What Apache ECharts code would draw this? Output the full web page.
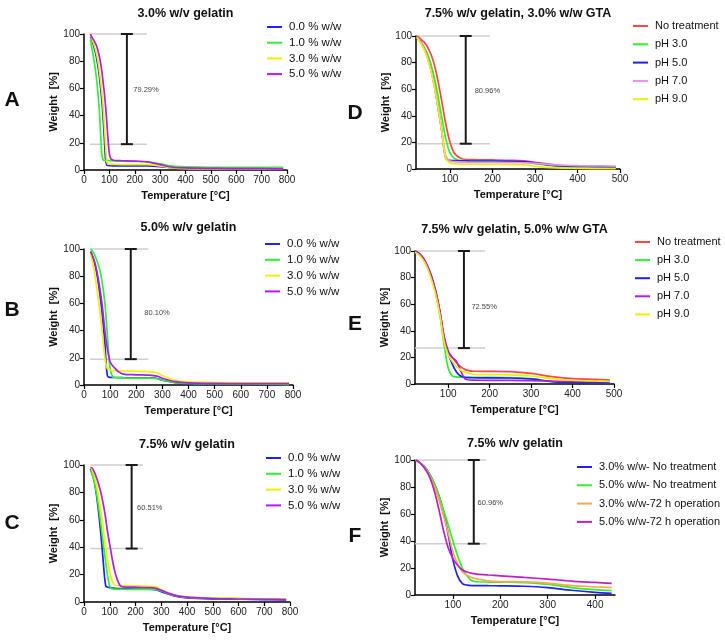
<!DOCTYPE html>
<html>
<head>
<meta charset="utf-8">
<script src="https://cdn.jsdelivr.net/npm/echarts@6/dist/echarts.min.js"></script>
<style>
  html, body { margin: 0; padding: 0; background: #fff; }
  #main { width: 725px; height: 640px; }
</style>
</head>
<body>
<div id="main"></div>
<script>
// ---- data ----
const tempA = [25, 30, 40, 50, 60, 70, 75, 80, 85, 90, 95, 100, 105, 110, 120, 150, 200, 250, 300, 350, 400, 500, 600, 700, 785];
const a00 = [98, 96, 90, 82, 70, 52, 40, 24, 8, 3.5, 3.3, 3.2, 3.2, 3.1, 3.1, 3, 3, 3, 2.5, 1.5, 1, 0.8, 0.8, 0.7, 0.7];
const a10 = [96, 91, 80, 66, 45, 12, 7.5, 7, 7, 7, 7, 7, 6.9, 6.8, 6.7, 6.5, 6.3, 6, 4.5, 2.8, 2.3, 2, 2, 2, 2];
const a30 = [99, 97, 92, 85, 74, 58, 48, 34, 18, 6, 4.5, 4.3, 4.2, 4.2, 4.1, 4, 4, 4, 3, 1.5, 1, 0.8, 0.8, 0.8, 0.8];
const a50 = [100, 98, 95, 91, 84, 73, 65, 57, 47, 35, 22, 12, 8.5, 7.5, 7, 6.8, 6.5, 6, 4, 2, 1.5, 1.2, 1, 1, 0.8];

const tempB = [25, 30, 40, 50, 60, 70, 80, 85, 90, 95, 100, 110, 120, 130, 150, 200, 250, 280, 300, 350, 400, 500, 600, 700, 785];
const b00 = [98, 96, 90, 81, 68, 52, 30, 15, 6.5, 5.8, 5.6, 5.5, 5.5, 5.5, 5.4, 5.3, 5.2, 4.8, 3.5, 1.8, 1, 0.7, 0.6, 0.5, 0.5];
const b10 = [100, 99, 96, 91, 85, 75, 60, 48, 35, 22, 12, 6, 5.5, 5.3, 5.2, 5, 5, 4.6, 3.5, 1.8, 1.2, 1, 0.8, 0.7, 0.3];
const b30 = [97, 93, 83, 70, 55, 38, 20, 14, 12, 11.5, 11, 10.8, 10.6, 10.5, 10.3, 10, 9.8, 9, 7, 3.5, 2.3, 1.8, 1.6, 1.5, 1.5];
const b50 = [98, 96, 91, 83, 72, 58, 40, 32, 26, 21, 17, 14, 12, 10, 8, 7.5, 7.2, 6.5, 5, 2.5, 1.5, 1.2, 1, 1, 1];

const tempC = [25, 30, 40, 50, 60, 70, 80, 85, 90, 100, 110, 120, 130, 140, 150, 200, 250, 280, 300, 350, 400, 500, 600, 700, 785];
const c00 = [97, 95, 88, 76, 60, 40, 18, 11.5, 11, 10.5, 10.2, 10, 9.8, 9.7, 9.6, 9.5, 9.3, 8.8, 7.5, 4.5, 3, 2.2, 2, 1.8, 1.6];
const c10 = [96, 94, 88, 78, 65, 50, 35, 28, 21, 11.5, 9.5, 9.4, 9.3, 9.3, 9.3, 9.2, 9.2, 9, 8, 5, 3.5, 2.8, 2.5, 2.2, 2];
const c30 = [99, 97, 92, 84, 73, 60, 46, 39, 32, 22, 15, 12.5, 12, 12, 12, 11.8, 11.5, 11, 9, 5, 3.5, 2.8, 2.5, 2.2, 2];
const c50 = [98, 98, 95, 90, 84, 76, 66, 60, 53, 42, 31, 22, 16, 12, 11, 10.8, 10.5, 10, 8.5, 5, 3.5, 2.5, 2.2, 2, 1.8];

const tempD = [22, 30, 40, 50, 60, 70, 80, 90, 100, 110, 120, 130, 150, 200, 250, 280, 300, 350, 400, 450, 490];
const dNone = [100, 98, 95, 90, 82, 69, 52, 34, 20, 12, 9, 7.5, 7, 6.8, 6.5, 6, 5, 3, 2.3, 2, 1.5];
const dPh3 = [99, 96, 91, 84, 73, 58, 40, 23, 12, 8, 6.8, 6.3, 6, 5.8, 5.5, 5, 4, 2, 1.2, 1, 0.8];
const dPh5 = [99, 96, 90, 81, 68, 50, 30, 8, 6.5, 6.3, 6.2, 6.2, 6, 6, 5.8, 5.3, 4.5, 2.5, 2, 1.8, 1.5];
const dPh7 = [99, 96, 90, 81, 68, 50, 30, 10, 6, 5.5, 5.3, 5.2, 5, 5, 4.8, 4.6, 4.3, 3, 2.5, 2.3, 2.2];
const dPh9 = [99, 95, 89, 80, 67, 50, 30, 8, 4.5, 4, 3.8, 3.7, 3.6, 3.5, 3.3, 3, 2, 0.8, 0.5, 0.3, 0.3];

const tempE = [20, 30, 40, 50, 60, 70, 80, 90, 100, 110, 120, 130, 140, 150, 160, 200, 250, 300, 350, 400, 450, 490];
const eNone = [100, 98, 94, 88, 80, 69, 54, 36, 24, 20, 16, 13, 11, 10, 9.6, 9.5, 9.3, 8, 5.5, 4, 3.5, 3];
const ePh3 = [100, 98, 94, 88, 80, 68, 52, 30, 12, 6, 5.3, 5.1, 5, 5, 5, 5, 4.8, 4, 2, 1.5, 1.2, 1];
const ePh5 = [100, 98, 94, 88, 80, 69, 54, 34, 23, 15, 9, 6, 5, 4.8, 4.7, 4.6, 4.5, 3.8, 1.8, 1.2, 1, 0.8];
const ePh7 = [100, 98, 95, 89, 81, 70, 55, 36, 25, 20, 17, 10, 4, 3, 2.9, 2.8, 2.8, 2.6, 2.2, 2, 2, 2];
const ePh9 = [99, 97, 93, 87, 78, 67, 52, 32, 22, 17, 13, 10.5, 9, 8, 7.3, 7, 6.8, 6, 4, 2.8, 2.3, 2];

const tempF = [22, 30, 40, 50, 60, 70, 80, 90, 100, 110, 120, 130, 140, 150, 175, 200, 250, 300, 350, 400, 435];
const f3None = [100, 98, 95, 90, 83, 74, 62, 45, 26, 14, 8.5, 7.3, 7, 7, 6.9, 6.8, 6.5, 5.5, 3.5, 2, 1.3];
const f5None = [100, 98, 95, 90, 83, 74, 63, 52, 40, 29, 20, 14, 10.5, 9.8, 9.6, 9.5, 9.2, 8, 5.5, 4, 3.3];
const f3Op = [100, 98, 94, 89, 81, 71, 59, 46, 32, 23, 17, 14.5, 13, 12, 10.5, 10, 9.7, 8.8, 7, 6, 5.5];
const f5Op = [100, 98, 94, 88, 78, 64, 48, 35, 27, 22, 18.5, 17, 16, 15.5, 14.8, 14.2, 13, 11.8, 10.3, 9.3, 8.6];

// error bar (weight loss) per panel A..F
const errTemp = [169, 179, 185, 137, 138, 144];
const errLow = [19, 19, 39, 19, 27, 38];
const errHigh = [100, 100, 100, 100, 100, 100];
const refFrom = [24, 23, 25, 22, 20, 20];
const refTo = [248, 246, 229, 194, 189, 171];
const pctTemp = [194, 231, 206, 158, 156, 152];
const pctValue = [59, 53, 69, 59, 58, 68];
const pctText = ['79.29%', '80.10%', '60.51%', '80.96%', '72.55%', '60.96%'];

const panelTitles = ['3.0% w/v gelatin', '5.0% w/v gelatin', '7.5% w/v gelatin',
  '7.5% w/v gelatin, 3.0% w/w GTA', '7.5% w/v gelatin, 5.0% w/w GTA', '7.5% w/v gelatin'];
const panelLetters = ['A', 'B', 'C', 'D', 'E', 'F'];
const xTicksWide = [0, 100, 200, 300, 400, 500, 600, 700, 800];
const xTicksDE = [100, 200, 300, 400, 500];
const xTicksF = [100, 200, 300, 400];
const yTicks = [0, 20, 40, 60, 80, 100];

// ---- layout ----
const FONT = '"Liberation Sans", Arial, sans-serif';
const BLUE = '#1f1fff', GREEN = '#2ef22e', YELLOW = '#f0f000', PURPLE = '#b01ee6',
  RED = '#ff4545', PINK = '#e890f2', ORANGE = '#ffa64d', MAGENTA = '#c21ec8';

const panels = [
  { grid: { left: 84, top: 34, width: 203, height: 136 }, xMin: 0, xMax: 800, ticks: xTicksWide,
    letter: [12, 100], legend: { left: 267, top: 20, gap: 1.7 }, titleY: 7,
    curves: [['0.0 % w/w', tempA, a00, BLUE], ['1.0 % w/w', tempA, a10, GREEN], ['3.0 % w/w', tempA, a30, YELLOW], ['5.0 % w/w', tempA, a50, PURPLE]] },
  { grid: { left: 84, top: 249, width: 209, height: 136 }, xMin: 0, xMax: 800, ticks: xTicksWide,
    letter: [12, 310], legend: { left: 265, top: 237, gap: 1.8 }, titleY: 221,
    curves: [['0.0 % w/w', tempB, b00, BLUE], ['1.0 % w/w', tempB, b10, GREEN], ['3.0 % w/w', tempB, b30, YELLOW], ['5.0 % w/w', tempB, b50, PURPLE]] },
  { grid: { left: 84, top: 465, width: 206, height: 137 }, xMin: 0, xMax: 800, ticks: xTicksWide,
    letter: [12, 523], legend: { left: 266, top: 451, gap: 1.8 }, titleY: 438,
    curves: [['0.0 % w/w', tempC, c00, BLUE], ['1.0 % w/w', tempC, c10, GREEN], ['3.0 % w/w', tempC, c30, YELLOW], ['5.0 % w/w', tempC, c50, PURPLE]] },
  { grid: { left: 416, top: 36, width: 204, height: 133 }, xMin: 20, xMax: 500, ticks: xTicksDE,
    letter: [355, 113], legend: { left: 633, top: 19, gap: 4.3 }, titleY: 7,
    curves: [['No treatment', tempD, dNone, RED], ['pH 3.0', tempD, dPh3, GREEN], ['pH 5.0', tempD, dPh5, BLUE], ['pH 7.0', tempD, dPh7, PINK], ['pH 9.0', tempD, dPh9, YELLOW]] },
  { grid: { left: 415, top: 251, width: 199, height: 133 }, xMin: 20, xMax: 500, ticks: xTicksDE,
    letter: [355, 324], legend: { left: 635, top: 235, gap: 4.1 }, titleY: 223,
    curves: [['No treatment', tempE, eNone, RED], ['pH 3.0', tempE, ePh3, GREEN], ['pH 5.0', tempE, ePh5, BLUE], ['pH 7.0', tempE, ePh7, PURPLE], ['pH 9.0', tempE, ePh9, YELLOW]] },
  { grid: { left: 415, top: 460, width: 200, height: 135 }, xMin: 20, xMax: 442, ticks: xTicksF,
    letter: [355, 536], legend: { left: 577, top: 460, gap: 4.3 }, titleY: 437,
    curves: [['3.0% w/w- No treatment', tempF, f3None, BLUE], ['5.0% w/w- No treatment', tempF, f5None, GREEN], ['3.0% w/w-72 h operation', tempF, f3Op, ORANGE], ['5.0% w/w-72 h operation', tempF, f5Op, MAGENTA]] },
];

const grids = [], xAxes = [], yAxes = [], series = [], legends = [], titles = [], graphics = [];

panels.forEach((p, i) => {
  grids.push(p.grid);
  const axisLine = { show: true, lineStyle: { color: '#000', width: 1.5 } };
  const axisTick = { show: true, length: 4, lineStyle: { color: '#000', width: 1.2 } };
  xAxes.push({
    gridIndex: i, type: 'value', min: p.xMin, max: p.xMax,
    axisLine, axisTick: Object.assign({ customValues: p.ticks }, axisTick),
    axisLabel: { customValues: p.ticks, fontSize: 10, color: '#222', fontFamily: FONT, margin: 5 },
    splitLine: { show: false },
    name: 'Temperature [°C]', nameLocation: 'middle', nameGap: 20,
    nameTextStyle: { fontSize: 11, fontWeight: 'bold', color: '#111', fontFamily: FONT },
  });
  yAxes.push({
    gridIndex: i, type: 'value', min: 0, max: 100, interval: 20,
    axisLine, axisTick,
    axisLabel: { fontSize: 10, color: '#222', fontFamily: FONT, margin: 4 },
    splitLine: { show: false },
    name: 'Weight  [%]', nameLocation: 'middle', nameGap: 24,
    nameTextStyle: { fontSize: 11, fontWeight: 'bold', color: '#111', fontFamily: FONT },
  });

  // weight-loss bar with grey reference lines
  series.push({
    type: 'custom', xAxisIndex: i, yAxisIndex: i, z: 1, silent: true,
    data: [[errTemp[i], errLow[i], errHigh[i], refFrom[i], refTo[i], pctTemp[i], pctValue[i]]],
    encode: { x: 0, y: 1 },
    renderItem: (params, api) => {
      const x = api.value(0), lo = api.value(1), hi = api.value(2);
      const top = api.coord([x, hi]), bot = api.coord([x, lo]);
      const r0 = api.coord([api.value(3), hi]), r1 = api.coord([api.value(4), hi]);
      const r2 = api.coord([api.value(3), lo]), r3 = api.coord([api.value(4), lo]);
      const t = api.coord([api.value(5), api.value(6)]);
      const grey = { stroke: '#cfcfcf', lineWidth: 1.5 };
      const black = { stroke: '#1a1a1a', lineWidth: 2 };
      return {
        type: 'group', children: [
          { type: 'line', shape: { x1: r0[0], y1: r0[1], x2: r1[0], y2: r1[1] }, style: grey },
          { type: 'line', shape: { x1: r2[0], y1: r2[1], x2: r3[0], y2: r3[1] }, style: grey },
          { type: 'line', shape: { x1: top[0], y1: top[1], x2: bot[0], y2: bot[1] }, style: black },
          { type: 'line', shape: { x1: top[0] - 6, y1: top[1], x2: top[0] + 6, y2: top[1] }, style: black },
          { type: 'line', shape: { x1: bot[0] - 6, y1: bot[1], x2: bot[0] + 6, y2: bot[1] }, style: black },
          { type: 'text', style: { text: pctText[i], x: t[0], y: t[1], fill: '#444', font: '7.5px ' + FONT, verticalAlign: 'middle' } },
        ],
      };
    },
  });

  const names = [];
  p.curves.forEach(([name, temps, vals, color]) => {
    const id = name + '#' + i;
    names.push(id);
    series.push({
      name: id, type: 'line', xAxisIndex: i, yAxisIndex: i, z: 3,
      data: temps.map((t, k) => [t, vals[k]]),
      showSymbol: false, smooth: 0.3, color,
      lineStyle: { width: 1.7, color },
      emphasis: { disabled: true },
    });
  });

  legends.push({
    data: names, left: p.legend.left, top: p.legend.top, orient: 'vertical',
    icon: 'rect', itemWidth: 15, itemHeight: 2, itemGap: p.legend.gap, padding: 0,
    formatter: (n) => n.split('#')[0],
    textStyle: { fontSize: i < 3 ? 11.5 : 11, color: '#111', fontFamily: FONT, lineHeight: 14, padding: [0, 0, 0, 2] },
    selectedMode: false,
  });

  titles.push({
    text: panelTitles[i], left: p.grid.left + p.grid.width / 2, top: p.titleY, textAlign: 'center', padding: 0,
    textStyle: { fontSize: 12.5, fontWeight: 'bold', color: '#111', fontFamily: FONT },
  });

  graphics.push({
    type: 'text', x: p.letter[0], y: p.letter[1],
    style: { text: panelLetters[i], font: 'bold 21px ' + FONT, fill: '#111', align: 'center', verticalAlign: 'middle' },
  });
});

const chart = echarts.init(document.getElementById('main'), null, { renderer: 'canvas' });
chart.setOption({
  animation: false,
  backgroundColor: '#fff',
  title: titles,
  legend: legends,
  grid: grids,
  xAxis: xAxes,
  yAxis: yAxes,
  series,
  graphic: graphics,
});
</script>
</body>
</html>
